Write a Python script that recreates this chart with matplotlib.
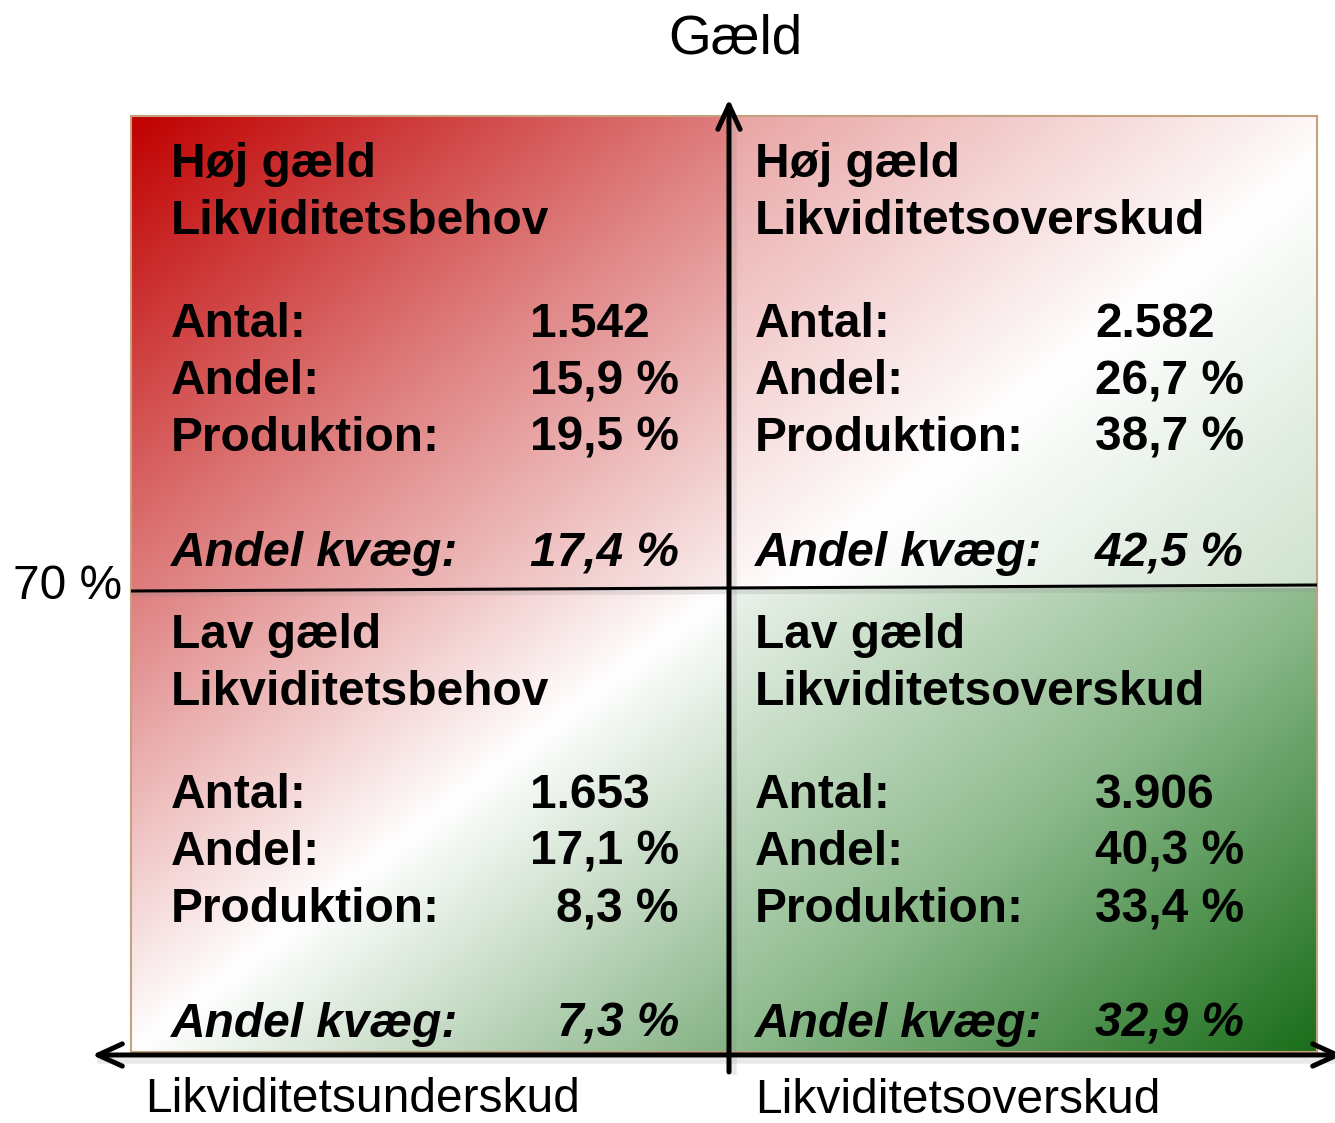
import numpy as np
import matplotlib
matplotlib.use("Agg")
import matplotlib.pyplot as plt
from matplotlib.colors import to_rgb
from matplotlib.patches import Rectangle

# ---------------- data ----------------
axis_top_label = "Gæld"
axis_left_label = "70 %"
axis_bottom_left = "Likviditetsunderskud"
axis_bottom_right = "Likviditetsoverskud"

quad_line1 = ["Høj gæld", "Høj gæld", "Lav gæld", "Lav gæld"]
quad_line2 = ["Likviditetsbehov", "Likviditetsoverskud", "Likviditetsbehov", "Likviditetsoverskud"]
row_labels = ["Antal:", "Andel:", "Produktion:"]
kvaeg_label = "Andel kvæg:"
antal = ["1.542", "2.582", "1.653", "3.906"]
andel = ["15,9 %", "26,7 %", "17,1 %", "40,3 %"]
produktion = ["19,5 %", "38,7 %", "8,3 %", "33,4 %"]
andel_kvaeg = ["17,4 %", "42,5 %", "7,3 %", "32,9 %"]

# gradient stops per quadrant (TL, TR, BL, BR)
quad_stops = [
    [(0.0, "#c00000"), (0.5, "#de7c7c"), (1.0, "#faeeee")],
    [(0.0, "#e9a3a3"), (0.55, "#ffffff"), (1.0, "#cfe2cf")],
    [(0.0, "#de7d7d"), (0.5, "#ffffff"), (1.0, "#84b284")],
    [(0.0, "#ecf3ec"), (0.5, "#8ebb8e"), (1.0, "#1a6d1a")],
]

# ---------------- layout ----------------
W, H = 1335, 1123
fig = plt.figure(figsize=(W / 100, H / 100), dpi=100)
ax = fig.add_axes([0, 0, 1, 1])
ax.set_xlim(0, W)
ax.set_ylim(H, 0)
ax.axis("off")

X0, XM, X1 = 131, 729, 1317
Y0, YM, Y1 = 116, 588, 1052


def grad(stops, nx=400, ny=320):
    u = np.linspace(0, 1, nx)[None, :]
    v = np.linspace(0, 1, ny)[:, None]
    s = (u + v) / 2
    pos = [p for p, _ in stops]
    cols = np.array([to_rgb(c) for _, c in stops])
    img = np.zeros((ny, nx, 3))
    for k in range(3):
        img[..., k] = np.interp(s, pos, cols[:, k])
    return img


extents = [(X0, XM, YM, Y0), (XM, X1, YM, Y0), (X0, XM, Y1, YM), (XM, X1, Y1, YM)]
for stops, ext in zip(quad_stops, extents):
    ax.imshow(grad(stops), extent=ext, origin="upper", aspect="auto",
              interpolation="bilinear", zorder=1)

# outer border
ax.add_patch(Rectangle((X0, Y0), X1 - X0, Y1 - Y0, fill=False,
                       edgecolor="#c4a27e", lw=1.5, zorder=2))

# soft shadows
ax.plot([X0, X1], [YM + 6, YM + 1], color="#888888", alpha=0.2, lw=4, zorder=2,
        solid_capstyle="butt")
ax.plot([XM + 5, XM + 5], [Y0, 1072], color="#888888", alpha=0.18, lw=4, zorder=2)
ax.plot([100, W], [1061, 1061], color="#888888", alpha=0.18, lw=4, zorder=2)

# horizontal divider (70 %)
ax.plot([X0, X1], [YM + 3, YM - 3], color="black", lw=2.2, zorder=3,
        solid_capstyle="butt")

# vertical arrow
ax.annotate("", xy=(XM, 99), xytext=(XM, 1072),
            arrowprops=dict(arrowstyle="->,head_length=0.7,head_width=0.32",
                            lw=3.6, color="black", shrinkA=0, shrinkB=0,
                            mutation_scale=25), zorder=4)
# horizontal arrow
ax.annotate("", xy=(92, 1055), xytext=(1343, 1055),
            arrowprops=dict(arrowstyle="<->,head_length=0.7,head_width=0.32",
                            lw=3.6, color="black", shrinkA=0, shrinkB=0,
                            mutation_scale=25), zorder=4)

# axis labels
FS_AX = 34.5
ax.text(735, 53, axis_top_label, fontsize=39.5, family="Liberation Sans",
        ha="center", va="baseline", zorder=5)
ax.text(122, 599, axis_left_label, fontsize=FS_AX, family="Liberation Sans",
        ha="right", va="baseline", zorder=5)
ax.text(145, 1112, axis_bottom_left, fontsize=FS_AX, family="Liberation Sans",
        ha="left", va="baseline", zorder=5)
ax.text(755, 1113, axis_bottom_right, fontsize=FS_AX, family="Liberation Sans",
        ha="left", va="baseline", zorder=5)

# quadrant texts
FS = 34.5
label_x = [171, 755, 171, 755]
val_left_x = [530, 1095, 530, 1095]
val_right_x = [679, 1244, 679, 1244]
y_off = [0, 0, 471, 471]
title_base = [177, 234]
row_base = [337, 394, 451]
kvaeg_base = 566

for q in range(4):
    lx, dy = label_x[q], y_off[q]
    kw = dict(fontsize=FS, family="Liberation Sans", fontweight="bold",
              va="baseline", color="black", zorder=5)
    ax.text(lx, title_base[0] + dy, quad_line1[q], ha="left", **kw)
    ax.text(lx, title_base[1] + dy, quad_line2[q], ha="left", **kw)
    vals = [antal[q], andel[q], produktion[q]]
    for lab, val, yb in zip(row_labels, vals, row_base):
        ax.text(lx, yb + dy, lab, ha="left", **kw)
        if "%" in val:
            ax.text(val_right_x[q], yb + dy, val, ha="right", **kw)
        else:
            ax.text(val_left_x[q], yb + dy, val, ha="left", **kw)
    ax.text(lx, kvaeg_base + dy, kvaeg_label, ha="left", style="italic", **kw)
    ax.text(val_right_x[q], kvaeg_base + dy, andel_kvaeg[q], ha="right",
            style="italic", **kw)

fig.savefig("out.png", dpi=100)
